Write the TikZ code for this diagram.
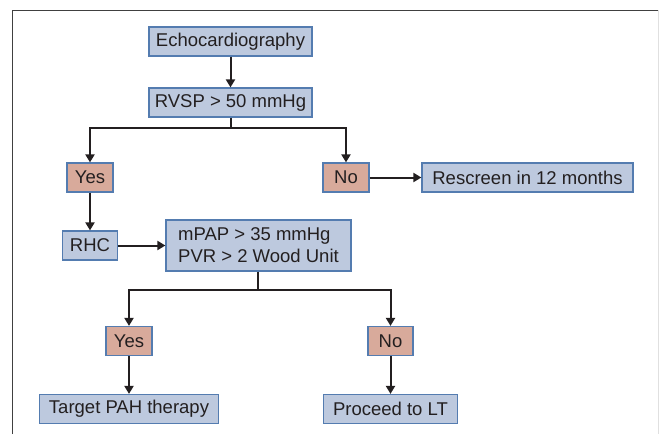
\documentclass[tikz,border=0pt]{standalone}
\usepackage{fontspec}
\setmainfont{Liberation Sans}
\usetikzlibrary{arrows.meta}
\definecolor{boxblue}{RGB}{189,201,222}
\definecolor{boxpink}{RGB}{216,170,155}
\definecolor{edgeblue}{RGB}{84,124,176}
\definecolor{inkgray}{RGB}{35,31,32}

\begin{document}
\begin{tikzpicture}[x=1pt,y=-1pt]
        \tikzstyle{step box}=[rectangle,draw=edgeblue,line width=1.2pt,fill=boxblue,text=inkgray,
          font=\fontsize{18.5}{22}\selectfont,minimum height=29pt,inner sep=0pt]
        \tikzstyle{answer}=[step box,fill=boxpink,minimum width=46pt]
        \tikzstyle{flow}=[line width=2pt,inkgray,-{Triangle[length=8pt,width=9pt]}]
          \useasboundingbox (0,0) rectangle (659,434);
          \draw [line width=1pt,black!75] (12,434) -- (12,10) -- (659,10);
          \draw [line width=1pt,black!12] (658,10) -- (658,434);
          \node (echo) at (230.5,41.5) [step box,minimum width=163pt] {Echocardiography};
          \node (rvsp) at (230.5,102.5) [step box,minimum width=163pt] {RVSP > 50 mmHg};
          \node (yesA) at (90,177.5) [answer] {Yes};
          \node (noA) at (346,177.5) [answer] {No};
          \node (rescreen) at (527.5,177.5) [step box,minimum width=211pt] {Rescreen in 12 months};
          \node (rhc) at (90,245.5) [step box,minimum width=55pt] {RHC};
          \node (mpap) at (258.5,245.5) [step box,minimum width=185pt,minimum height=51pt,align=left]
            {mPAP > 35 mmHg\\PVR > 2 Wood Unit};
          \node (yesB) at (129,341) [answer] {Yes};
          \node (noB) at (390.5,341) [answer,minimum width=45pt] {No};
          \node (target) at (129,409) [step box,minimum width=179pt] {Target PAH therapy};
          \node (proceed) at (390.5,409) [step box,minimum width=134pt] {Proceed to LT};
          \coordinate (splitA) at (230.5,128);
          \coordinate (splitB) at (258,290);
          \draw [flow] (echo) -- (rvsp);
          \draw [line width=2pt,inkgray] (rvsp) -- (splitA);
          \draw [flow] (splitA) -| (yesA);
          \draw [flow] (splitA) -| (noA);
          \draw [flow] (noA) -- (rescreen);
          \draw [flow] (yesA) -- (rhc);
          \draw [flow] (rhc) -- (mpap);
          \draw [line width=2pt,inkgray] (mpap.south -| splitB) -- (splitB);
          \draw [flow] (splitB) -| (yesB);
          \draw [flow] (splitB) -| (noB);
          \draw [flow] (yesB) -- (target);
          \draw [flow] (noB) -- (proceed);
      \end{tikzpicture}
\end{document}
